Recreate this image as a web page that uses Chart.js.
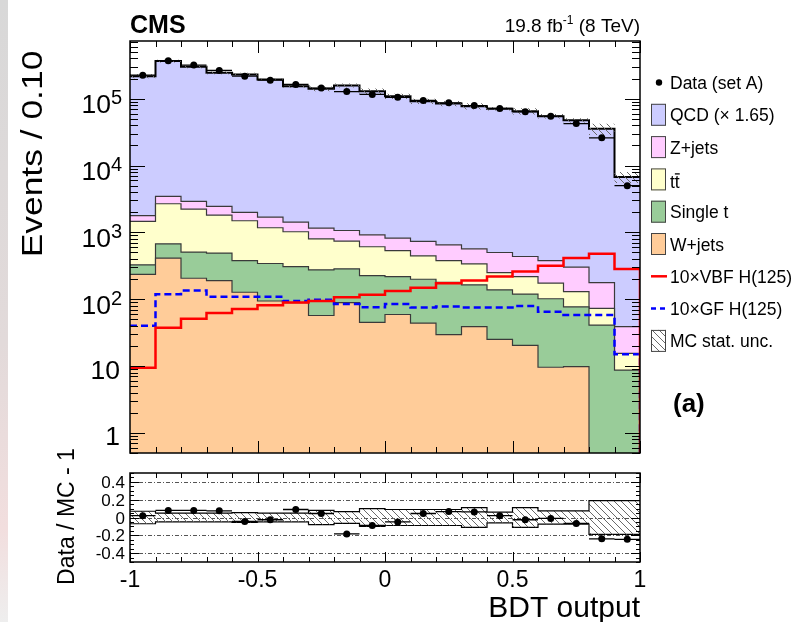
<!DOCTYPE html>
<html>
<head>
<meta charset="utf-8">
<title>BDT output</title>
<script src="https://cdn.jsdelivr.net/npm/chart.js@4.4.1/dist/chart.umd.min.js"></script>
<style>
  html, body { margin: 0; padding: 0; background: #fff; }
  #wrap { position: relative; width: 794px; height: 622px; overflow: hidden; }
  canvas { position: absolute; left: 0; }
  #main { top: 0; }
  #ratio { top: 440px; }
</style>
</head>
<body>
<div id="wrap">
  <canvas id="main" width="794" height="622"></canvas>
  <canvas id="ratio" width="794" height="182"></canvas>
</div>
<script>
// bins of the BDT output (width 0.1)
const binEdges = [-1.0, -0.9, -0.8, -0.7, -0.6, -0.5, -0.4, -0.3, -0.2, -0.1, 0.0,
                  0.1, 0.2, 0.3, 0.4, 0.5, 0.6, 0.7, 0.8, 0.9, 1.0];

// stacked backgrounds, events per bin (bottom to top)
const wJets     = [235, 412, 206, 190, 127, 94, 89, 57, 89, 45, 59, 44, 29.5, 39, 25, 20.4, 9.6, 9.8, 0, 0];
const singleTop = [92, 263, 301, 300, 252, 248, 219, 218, 196, 180, 159, 155, 150, 125, 113, 99, 92, 67, 41, 8.7];
const ttbar     = [1129, 2008, 1727, 1327, 1114, 830, 713, 527, 456, 384, 317, 247, 199, 174, 112, 99, 72, 53, 32, 6.8];
const zJets     = [319, 770, 670, 628, 494, 523, 405, 357, 326, 311, 286, 285, 273, 230, 250, 217, 205, 172, 104, 23.3];
const qcd       = [215200, 361500, 297100, 241600, 229000, 192300, 152600, 139800, 156900, 128100,
                   108200, 91070, 84050, 76730, 70100, 64570, 54320, 47300, 35220, 6710];

const dataA = [225000, 370000, 318000, 265000, 217000, 189000, 163000, 144000, 128000, 116000,
               105000, 94000, 86700, 79000, 71300, 63600, 54700, 42500, 26000, 5000];

// signals x10
const vbf10 = [9.4, 37.5, 51, 62, 71.6, 81, 89, 94, 107, 117, 133, 149, 174, 190, 218, 259, 316, 412, 478, 282];
const gf10  = [40, 119, 135, 109, 109, 109, 94, 98, 85, 76, 85, 75, 77.6, 75, 75, 79, 65, 58, 58, 15];

// ratio panel
const ratioData = [0.02, 0.08, 0.08, 0.075, -0.045, -0.025, 0.09, 0.045, -0.185, -0.09,
                   -0.05, 0.045, 0.067, 0.063, 0.02, -0.025, -0.01, -0.067, -0.24, -0.245];
const mcStatUnc = [0.07, 0.05, 0.05, 0.05, 0.055, 0.05, 0.05, 0.08, 0.065, 0.1,
                   0.09, 0.09, 0.09, 0.11, 0.06, 0.11, 0.075, 0.075, 0.19, 0.19];

// tick labels
const yDecades = [1, 10, 100, 1000, 10000, 100000];
const yDecadeLabels = [['1', ''], ['10', ''], ['10', '2'], ['10', '3'], ['10', '4'], ['10', '5']];
const xTickValues = [-1, -0.5, 0, 0.5, 1];
const xTickLabels = ['-1', '-0.5', '0', '0.5', '1'];
const ratioTickValues = [0.4, 0.2, 0, -0.2, -0.4];
const ratioTickLabels = ['0.4', '0.2', '0', '-0.2', '-0.4'];

const stackNames = ['W+jets', 'Single t', 'tt', 'Z+jets', 'QCD (× 1.65)'];
const stackColors = ['#ffcc99', '#99cc99', '#ffffcc', '#ffccff', '#ccccff'];

const FONT = '"Liberation Sans", Arial, Helvetica, sans-serif';

// --- helpers ---
function stepPoints(vals) {
  const pts = vals.map((v, i) => ({ x: binEdges[i], y: v }));
  pts.push({ x: binEdges[vals.length], y: vals[vals.length - 1] });
  return pts;
}
function centers(vals) {
  return vals.map((v, i) => ({ x: (binEdges[i] + binEdges[i + 1]) / 2, y: v }));
}
function errBars(vals) {
  const pts = [];
  vals.forEach((v, i) => {
    pts.push({ x: binEdges[i], y: v }, { x: binEdges[i + 1], y: v }, { x: binEdges[i + 1], y: null });
  });
  return pts;
}
function makeHatch(ctx) {
  const s = 7;
  const c = document.createElement('canvas');
  c.width = s; c.height = s;
  const g = c.getContext('2d');
  g.strokeStyle = '#6a6a6a';
  g.lineWidth = 1;
  g.beginPath();
  g.moveTo(-1, -1); g.lineTo(s + 1, s + 1);
  g.stroke();
  return ctx.createPattern(c, 'repeat');
}
function seg(ctx, x1, y1, x2, y2) {
  ctx.beginPath(); ctx.moveTo(x1, y1); ctx.lineTo(x2, y2); ctx.stroke();
}
function drawStrip(ctx, h) {
  const g = ctx.createLinearGradient(0, 0, 0, h);
  g.addColorStop(0, '#d8d8d8');
  g.addColorStop(0.55, '#e2dada');
  g.addColorStop(0.85, '#f2dede');
  g.addColorStop(1, '#eeeeee');
  ctx.fillStyle = g;
  ctx.fillRect(0, 0, 8, h);
}

const mainCanvas = document.getElementById('main');
const ratioCanvas = document.getElementById('ratio');
const hatchMain = makeHatch(mainCanvas.getContext('2d'));
const hatchRatio = makeHatch(ratioCanvas.getContext('2d'));

const totalMC = qcd.map((v, i) => v + zJets[i] + ttbar[i] + singleTop[i] + wJets[i]);

// --- main panel ---
const stackDatasets = [wJets, singleTop, ttbar, zJets, qcd].map((vals, i) => ({
  label: stackNames[i],
  data: stepPoints(vals.map(v => v > 0 ? v : 1e-3)), // log axis has no zero
  stepped: 'before',
  fill: i === 0 ? 'start' : '-1',
  backgroundColor: stackColors[i],
  borderColor: i === 4 ? '#000' : '#3a3a3a',
  borderWidth: i === 4 ? 2 : 1.2,
  pointRadius: 0,
  stack: 'mc',
  order: 1
}));

const withDrop = pts => pts.concat([{ x: binEdges[binEdges.length - 1], y: 1e-3 }]);

const mainDeco = {
  id: 'mainDeco',
  beforeDraw(chart) {
    const ctx = chart.ctx;
    ctx.save();
    ctx.fillStyle = '#fff';
    ctx.fillRect(0, 0, chart.width, chart.height);
    drawStrip(ctx, chart.height);
    ctx.restore();
  },
  afterDatasetsDraw(chart) {
    const { ctx, chartArea: a, scales: { x, y } } = chart;
    ctx.save();
    ctx.strokeStyle = '#000';
    ctx.lineWidth = 1;
    for (let k = 0; k <= 20; k++) {
      const px = Math.round(x.getPixelForValue(binEdges[k])) + 0.5;
      const len = k % 5 === 0 ? 12 : 6;
      seg(ctx, px, a.bottom, px, a.bottom - len);
      seg(ctx, px, a.top, px, a.top + len);
    }
    for (let e = -1; e <= 5; e++) {
      for (let m = 1; m <= 9; m++) {
        const v = m * Math.pow(10, e);
        if (v < y.min || v > y.max) continue;
        const py = Math.round(y.getPixelForValue(v)) + 0.5;
        const len = m === 1 ? 15 : 8;
        seg(ctx, a.left, py, a.left + len, py);
        seg(ctx, a.right, py, a.right - len, py);
      }
    }
    ctx.lineWidth = 1.5;
    ctx.strokeRect(a.left, a.top, a.right - a.left, a.bottom - a.top);
    ctx.restore();
  },
  afterDraw(chart) {
    const { ctx, scales: { y } } = chart;
    ctx.save();
    ctx.fillStyle = '#000';
    ctx.textBaseline = 'alphabetic';

    // y tick labels
    yDecades.forEach((v, i) => {
      const py = y.getPixelForValue(v);
      const [b, e] = yDecadeLabels[i];
      ctx.textAlign = 'right';
      if (e) {
        ctx.font = '20px ' + FONT;
        const we = ctx.measureText(e).width;
        ctx.fillText(e, 122, py + 5.5);
        ctx.font = '26.5px ' + FONT;
        ctx.fillText(b, 122 - we, py + 14.6);
      } else {
        ctx.font = '26.5px ' + FONT;
        ctx.fillText(b, 120, py + 12.5);
      }
    });

    // y title (ROOT draws it a bit wider than the font)
    ctx.save();
    ctx.translate(42, 154);
    ctx.rotate(-Math.PI / 2);
    ctx.scale(1.18, 1);
    ctx.font = '30px ' + FONT;
    ctx.textAlign = 'center';
    ctx.fillText('Events / 0.10', 0, 0);
    ctx.restore();

    // CMS + lumi
    ctx.textAlign = 'left';
    ctx.font = 'bold 25px ' + FONT;
    ctx.fillText('CMS', 130, 33);
    ctx.font = '19px ' + FONT;
    const p1 = '19.8 fb', p2 = ' (8 TeV)';
    const w1 = ctx.measureText(p1).width, w3 = ctx.measureText(p2).width;
    ctx.font = '12px ' + FONT;
    const w2 = ctx.measureText('-1').width;
    let x0 = 640 - (w1 + w2 + w3);
    ctx.font = '19px ' + FONT;
    ctx.fillText(p1, x0, 32);
    ctx.font = '12px ' + FONT;
    ctx.fillText('-1', x0 + w1, 24);
    ctx.font = '19px ' + FONT;
    ctx.fillText(p2, x0 + w1 + w2, 32);

    // (a)
    ctx.font = 'bold 26px ' + FONT;
    ctx.fillText('(a)', 673, 412);

    // legend
    const lx = 651, tx = 670, y0 = 82.5, dy = 32.3;
    ctx.font = '17.5px ' + FONT;
    const items = [
      { kind: 'dot', label: 'Data (set A)' },
      { kind: 'box', color: stackColors[4], label: stackNames[4] },
      { kind: 'box', color: stackColors[3], label: stackNames[3] },
      { kind: 'box', color: stackColors[2], label: 'tt', bar: true },
      { kind: 'box', color: stackColors[1], label: stackNames[1] },
      { kind: 'box', color: stackColors[0], label: stackNames[0] },
      { kind: 'line', color: '#ff0000', label: '10×VBF H(125)' },
      { kind: 'dash', color: '#0000ff', label: '10×GF H(125)' },
      { kind: 'hatch', label: 'MC stat. unc.' }
    ];
    items.forEach((it, i) => {
      const cy = y0 + i * dy;
      if (it.kind === 'dot') {
        ctx.beginPath(); ctx.arc(659, cy, 3.2, 0, Math.PI * 2); ctx.fill();
      } else if (it.kind === 'box' || it.kind === 'hatch') {
        ctx.fillStyle = it.kind === 'hatch' ? '#fff' : it.color;
        ctx.fillRect(lx, cy - 11, 15, 22);
        if (it.kind === 'hatch') { ctx.fillStyle = hatchMain; ctx.fillRect(lx, cy - 11, 15, 22); }
        ctx.strokeStyle = '#444'; ctx.lineWidth = 1;
        ctx.strokeRect(lx + 0.5, cy - 10.5, 14, 21);
        ctx.fillStyle = '#000';
      } else {
        ctx.strokeStyle = it.color; ctx.lineWidth = 2.5;
        ctx.setLineDash(it.kind === 'dash' ? [5, 4] : []);
        seg(ctx, lx, cy, lx + 16, cy);
        ctx.setLineDash([]);
      }
      ctx.fillStyle = '#000';
      const by = it.bar ? cy + 9 : cy + 6.5;
      ctx.fillText(it.label, tx, by);
      if (it.bar) {
        const wt = ctx.measureText('t').width, wa = ctx.measureText('tt').width;
        ctx.strokeStyle = '#000'; ctx.lineWidth = 1.3;
        seg(ctx, tx + wt, by - 14.5, tx + wa, by - 14.5);
      }
    });
    ctx.restore();
  }
};

new Chart(mainCanvas, {
  type: 'line',
  data: {
    datasets: stackDatasets.concat([
      {
        label: 'band low',
        data: stepPoints(totalMC.map((v, i) => v * (1 - mcStatUnc[i]))),
        stepped: 'before', borderWidth: 0, pointRadius: 0, fill: false,
        stack: 'bandLo', order: 0
      },
      {
        label: 'MC stat. unc.',
        data: stepPoints(totalMC.map((v, i) => v * (1 + mcStatUnc[i]))),
        stepped: 'before', borderWidth: 0, pointRadius: 0, fill: '-1',
        backgroundColor: hatchMain, stack: 'bandHi', order: 0
      },
      {
        label: '10×GF H(125)',
        data: withDrop(stepPoints(gf10)),
        stepped: 'before', borderColor: '#0000ff', borderWidth: 2.5, borderDash: [7, 4],
        pointRadius: 0, fill: false, stack: 'gf', order: -1
      },
      {
        label: '10×VBF H(125)',
        data: withDrop(stepPoints(vbf10)),
        stepped: 'before', borderColor: '#ff0000', borderWidth: 2.5,
        pointRadius: 0, fill: false, stack: 'vbf', order: -2
      },
      {
        label: 'data err',
        data: errBars(dataA),
        borderColor: '#000', borderWidth: 1.3, pointRadius: 0, fill: false,
        spanGaps: false, stack: 'dataErr', order: -3
      },
      {
        label: 'Data (set A)',
        data: centers(dataA),
        showLine: false, pointRadius: 3.5, pointBackgroundColor: '#000',
        pointBorderColor: '#000', pointBorderWidth: 0, stack: 'data', order: -4
      }
    ])
  },
  options: {
    animation: false,
    responsive: false,
    devicePixelRatio: 1,
    layout: { padding: { left: 130, right: 154, top: 41, bottom: 169 } },
    plugins: { legend: { display: false }, tooltip: { enabled: false } },
    scales: {
      x: { type: 'linear', min: -1, max: 1, display: false },
      y: { type: 'logarithmic', min: 0.5, max: 7.3e5, stacked: true, display: false }
    }
  },
  plugins: [mainDeco]
});

// --- ratio panel (transparent canvas laid over the lower part) ---
const ratioDeco = {
  id: 'ratioDeco',
  beforeDatasetsDraw(chart) {
    const { ctx, chartArea: a, scales: { y } } = chart;
    ctx.save();
    ctx.fillStyle = '#fff';
    ctx.fillRect(a.left, a.top, a.right - a.left, a.bottom - a.top);
    ctx.strokeStyle = '#555';
    ctx.lineWidth = 1;
    ctx.setLineDash([4, 2, 1, 2]);
    ratioTickValues.forEach(v => {
      const py = Math.round(y.getPixelForValue(v)) + 0.5;
      seg(ctx, a.left, py, a.right, py);
    });
    ctx.restore();
  },
  afterDatasetsDraw(chart) {
    const { ctx, chartArea: a, scales: { x, y } } = chart;
    ctx.save();
    ctx.strokeStyle = '#000';
    ctx.lineWidth = 1;
    for (let k = 0; k <= 20; k++) {
      const px = Math.round(x.getPixelForValue(binEdges[k])) + 0.5;
      const len = k % 5 === 0 ? 10 : 5;
      seg(ctx, px, a.bottom, px, a.bottom - len);
      seg(ctx, px, a.top, px, a.top + len);
    }
    for (let k = -10; k <= 10; k++) {
      const v = k * 0.05;
      const py = Math.round(y.getPixelForValue(v)) + 0.5;
      const len = k % 4 === 0 ? 9 : 4;
      seg(ctx, a.left, py, a.left + len, py);
      seg(ctx, a.right, py, a.right - len, py);
    }
    ctx.lineWidth = 1.5;
    ctx.strokeRect(a.left, a.top, a.right - a.left, a.bottom - a.top);
    ctx.restore();
  },
  afterDraw(chart) {
    const { ctx, scales: { x, y } } = chart;
    ctx.save();
    ctx.fillStyle = '#000';
    ctx.textBaseline = 'alphabetic';
    ctx.font = '17px ' + FONT;
    ctx.textAlign = 'right';
    ratioTickValues.forEach((v, i) => {
      ctx.fillText(ratioTickLabels[i], 125, y.getPixelForValue(v) + 6);
    });
    ctx.font = '23px ' + FONT;
    ctx.textAlign = 'center';
    xTickValues.forEach((v, i) => {
      ctx.fillText(xTickLabels[i], x.getPixelForValue(v), 147);
    });
    ctx.font = '30px ' + FONT;
    ctx.textAlign = 'right';
    ctx.fillText('BDT output', 640, 177);

    ctx.save();
    ctx.translate(74, 76.5);
    ctx.rotate(-Math.PI / 2);
    ctx.font = '23px ' + FONT;
    ctx.textAlign = 'center';
    ctx.fillText('Data / MC - 1', 0, 0);
    ctx.restore();
    ctx.restore();
  }
};

new Chart(ratioCanvas, {
  type: 'line',
  data: {
    datasets: [
      {
        label: 'unc low',
        data: stepPoints(mcStatUnc.map(u => -u)),
        stepped: 'before', borderColor: '#000', borderWidth: 1.2, pointRadius: 0, fill: false, order: 2
      },
      {
        label: 'unc high',
        data: stepPoints(mcStatUnc),
        stepped: 'before', borderColor: '#000', borderWidth: 1.2, pointRadius: 0,
        fill: '-1', backgroundColor: hatchRatio, order: 1
      },
      {
        label: 'ratio err',
        data: errBars(ratioData),
        borderColor: '#000', borderWidth: 1.3, pointRadius: 0, fill: false, spanGaps: false, order: 0
      },
      {
        label: 'ratio',
        data: centers(ratioData),
        showLine: false, pointRadius: 3.5, pointBackgroundColor: '#000',
        pointBorderColor: '#000', pointBorderWidth: 0, order: -1
      }
    ]
  },
  options: {
    animation: false,
    responsive: false,
    devicePixelRatio: 1,
    layout: { padding: { left: 130, right: 154, top: 33, bottom: 60 } },
    plugins: { legend: { display: false }, tooltip: { enabled: false } },
    scales: {
      x: { type: 'linear', min: -1, max: 1, display: false },
      y: { type: 'linear', min: -0.5, max: 0.5, display: false }
    }
  },
  plugins: [ratioDeco]
});
</script>
</body>
</html>
